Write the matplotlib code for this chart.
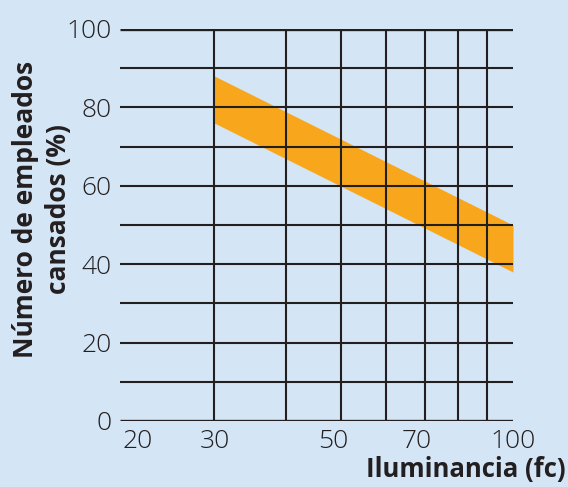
import numpy as np
import matplotlib.pyplot as plt
from matplotlib.transforms import ScaledTranslation

# datos
iluminancia = [30, 100]          # fc
banda_sup = [88, 50]             # % limite superior
banda_inf = [76, 38]             # % limite inferior

x_grid = [30, 40, 50, 60, 70, 80, 90]
y_grid = [0, 10, 20, 30, 40, 50, 60, 70, 80, 90, 100]
x_ticks = [20.5, 30, 50, 70, 100]
x_labels = ['20', '30', '50', '70', '100']
y_ticks = [0, 20, 40, 60, 80, 100]

fondo = "#d4e5f5"
naranja = "#f8a71d"
linea = "#231f20"

plt.rcParams['font.family'] = ['Open Sans', 'DejaVu Sans']

fig = plt.figure(figsize=(5.68, 4.87), dpi=100, facecolor=fondo)
ax = fig.add_axes([120/568, 1-421/487, (513-120)/568, (421-29)/487])
ax.set_facecolor(fondo)
ax.set_xscale('log')

# banda (recta en escala log)
xs = np.geomspace(iluminancia[0], iluminancia[1], 50)
lx = np.log10(iluminancia)
sup = np.interp(np.log10(xs), lx, banda_sup)
inf = np.interp(np.log10(xs), lx, banda_inf)
ax.fill_between(xs, inf, sup, color=naranja, lw=0, zorder=1)

# rejilla
for v in x_grid:
    ax.plot([v, v], [0, 100], color=linea, lw=1.5, zorder=2, solid_capstyle='butt')
for h in y_grid:
    lw = 2.4 if h in (0, 100) else 1.5
    ax.plot([20.5, 100], [h, h], color=linea, lw=lw, zorder=2, solid_capstyle='butt')

for s in ax.spines.values():
    s.set_visible(False)

ax.set_xticks(x_ticks)
ax.set_xticklabels(x_labels)
ax.xaxis.set_minor_locator(plt.NullLocator())
ax.set_yticks(y_ticks)
ax.set_yticklabels([str(t) for t in y_ticks])
ax.set_xlim(20.5, 100)
ax.set_ylim(0, 100)
ax.tick_params(length=0, labelsize=19, colors=linea)
ax.tick_params(axis='y', pad=6)
ax.tick_params(axis='x', pad=6)

lbls = ax.get_xticklabels()
for t in lbls + ax.get_yticklabels():
    t.set_fontweight('light')
lbls[0].set_horizontalalignment('left')
lbls[0].set_transform(lbls[0].get_transform() + ScaledTranslation(2/100, 0, fig.dpi_scale_trans))
for i in (2, 3):
    lbls[i].set_transform(lbls[i].get_transform() + ScaledTranslation(-8/100, 0, fig.dpi_scale_trans))

fig.text(42/568, 1-209/487, "Número de empleados\ncansados (%)", rotation=90,
         ha='center', va='center', fontsize=19, fontweight='bold', color=linea,
         linespacing=1.3)
fig.text(566/568, 1-470/487, "Iluminancia (fc)", ha='right', va='center',
         fontsize=18.5, fontweight='bold', color=linea)

fig.savefig("out.png", dpi=100, facecolor=fondo)
